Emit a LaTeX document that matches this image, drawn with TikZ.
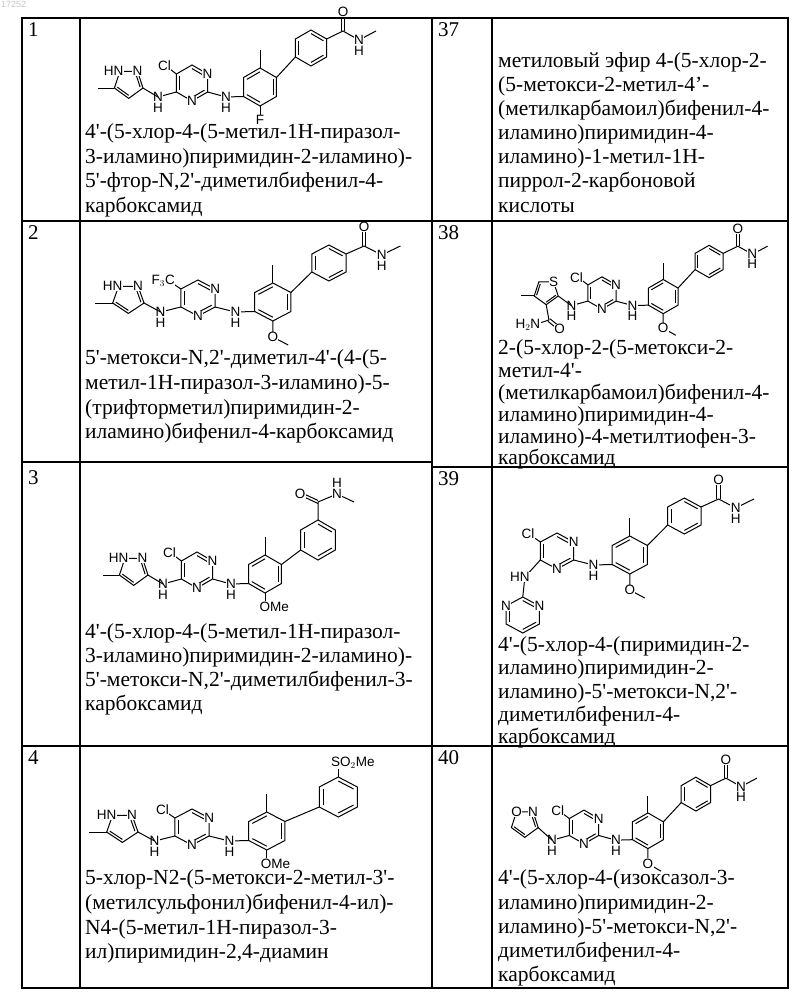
\documentclass[tikz,border=0pt]{standalone}
\usepackage{fontspec}
\setmainfont{Liberation Serif}[Ligatures=TeXOff]
\newfontfamily\atomf{Liberation Sans}
\usetikzlibrary{calc}
\newcommand\hexr[3]{\foreach \k in {0,...,5}{\coordinate (#1\k) at ($(#2)+({-90+60*\k}:#3)$);}\draw[bd] (#10)--(#11)--(#12)--(#13)--(#14)--(#15)--cycle;}
\newcommand\pentr[3]{\foreach \k in {0,...,4}{\coordinate (#1\k) at ($(#2)+({18-72*\k}:#3)$);}\draw[bd] (#10)--(#11)--(#12)--(#13)--(#14)--cycle;}
\newcommand\dbl[3]{\draw[bd] ($(#1)!0.2!(#3)$) -- ($(#2)!0.2!(#3)$);}
\newcommand\pyrcore{%
 \coordinate (O) at (0,0);
 \hexr{a}{0,0}{18}
 \dbl{a0}{a1}{O}\dbl{a2}{a3}{O}\dbl{a4}{a5}{O}
 \coordinate (nR) at (34,14);
 \draw[bd] (a2)--(nR);
 \coordinate (B) at (68,4);
 \hexr{b}{68,4}{19}
 \dbl{b1}{b2}{B}\dbl{b3}{b4}{B}\dbl{b5}{b0}{B}
 \draw[bd] (nR)--(b4);
 \draw[bd] (b0)--++(0,-18);
 \node[atm] at (a1) {N}; \node[atm] at (a3) {N};
 \node[atm] at (nR) {N}; \node[atm] at ($(nR)+(0,11)$) {H};}
\newcommand\cfive[1]{\draw[bd] (a5)--($(a5)+(-8,-6)$); \node[atm,anchor=east] at ($(a5)+(-5,-8)$) {#1};}
\newcommand\leftNH{\coordinate (nL) at (-34,14); \draw[bd] (a4)--(nL);
 \node[atm] at (nL) {N}; \node[atm] at ($(nL)+(0,11)$) {H};}
\newcommand\pararight{\coordinate (C) at (119,-35); \hexr{c}{119,-35}{18}
 \dbl{c0}{c1}{C}\dbl{c2}{c3}{C}\dbl{c4}{c5}{C}
 \draw[bd] (b1)--(c4);
 \coordinate (k) at (151,-52); \coordinate (am) at (167,-43);
 \draw[bd] (c1)--(k)--(am)--(184,-52);
 \draw[bd] (149.5,-52)--(149.5,-67); \draw[bd] (152.5,-52)--(152.5,-67);
 \node[atm] at (151,-71) {O}; \node[atm] at (am) {N}; \node[atm] at ($(am)+(0,11)$) {H};}
\newcommand\subF{\draw[bd] (b3)--++(0,9); \node[atm] at ($(b3)+(0,14)$) {F};}
\newcommand\subOMe{\coordinate (ox) at ($(b3)+(0,16)$); \draw[bd] (b3)--(ox)--++(14,8); \node[atm] at (ox) {O};}
\newcommand\subOMeT{\draw[bd] (b3)--++(0,10); \node[atm,anchor=north west] at ($(b3)+(-6,8)$) {OMe};}
\newcommand\pyrazole{\coordinate (D) at (-63.3,0.4); \pentr{d}{-63.3,0.4}{15}
 \dbl{d0}{d1}{D}\dbl{d3}{d4}{D}
 \draw[bd] (nL)--(d0); \draw[bd] (d3)--++(-16,0);
 \node[atm] at (d1) {N}; \node[atm,anchor=east] at ($(d2)+(4,0)$) {HN};}
\tikzset{bd/.style={line width=1pt},
 atm/.style={fill=white,inner sep=0.4pt,font=\atomf\fontsize{13.5}{13.5}\selectfont},
 grid/.style={line width=1.3pt},
 tx/.style={anchor=base west,inner sep=0pt,font=\fontsize{21.5}{22}\selectfont},
 num/.style={anchor=north west,inner sep=0pt,font=\fontsize{21}{22}\selectfont}}
\begin{document}
\begin{tikzpicture}[x=1pt,y=-1pt]
\fill[white] (0,0) rectangle (800,995);
\useasboundingbox (0,0) rectangle (800,995);
\node[anchor=north west,inner sep=1pt,text=gray!45,font=\atomf\fontsize{9}{9}\selectfont] (wm) at (0,0) {17252};
% grid
\draw[grid] (22,18) rectangle (788,988);
\draw[grid] (80,18)--(80,988); \draw[grid] (432,18)--(432,988); \draw[grid] (492,18)--(492,988);
\draw[grid] (22,221)--(788,221); \draw[grid] (22,462)--(432,462); \draw[grid] (432,467)--(788,467);
\draw[grid] (22,746)--(788,746);
% numbers
\node[num] (n1) at (28,22) {1}; \node[num] (n2) at (28,225) {2};
\node[num] (n3) at (28,470) {3}; \node[num] (n4) at (28,750) {4};
\node[num] (n37) at (438,22) {37}; \node[num] (n38) at (438,225) {38};
\node[num] (n39) at (438,471) {39}; \node[num] (n40) at (438,750) {40};
% cell 1
\begin{scope}[shift={(192,83)}]
\pyrcore \cfive{Cl} \leftNH \pyrazole \pararight \subF
\end{scope}
% cell 2
\begin{scope}[shift={(198,298)},xscale=1.1]
\pyrcore \cfive{F$_3$C} \leftNH \pyrazole \pararight \subOMe
\end{scope}
% cell 3
\begin{scope}[shift={(197,570)}]
\pyrcore \cfive{Cl} \leftNH \pyrazole \subOMeT
\coordinate (C) at (121,-30); \hexr{c}{121,-30}{20}
\dbl{c0}{c1}{C}\dbl{c2}{c3}{C}\dbl{c4}{c5}{C}
\draw[bd] (b1)--(c4);
\coordinate (k) at (121,-68); \coordinate (am) at (140,-76);
\draw[bd] (c0)--(k)--(am)--(157,-68);
\draw[bd] (121,-66.5)--(104,-74.5); \draw[bd] (121,-69.5)--(104,-77.5);
\node[atm] at (103,-76) {O}; \node[atm] at (am) {N}; \node[atm] at ($(am)+(0,-11)$) {H};
\end{scope}
% cell 4
\begin{scope}[shift={(192,827)},xscale=1.1]
\pyrcore \cfive{Cl} \leftNH \pyrazole \subOMeT
\coordinate (C) at (133,-30); \hexr{c}{133,-30}{20}
\dbl{c0}{c1}{C}\dbl{c2}{c3}{C}\dbl{c4}{c5}{C}
\draw[bd] (b1)--(c4); \draw[bd] (c0)--++(0,-10);
\node[atm,anchor=south west] at ($(c0)+(-7,-8)$) {SO$_2$Me};
\end{scope}
% cell 38
\begin{scope}[shift={(602,293)},scale=0.9]
\pyrcore \cfive{Cl} \leftNH \pararight \subOMe
\coordinate (E) at (-62,-1); \pentr{e}{-62,-1}{14}
\dbl{e0}{e4}{E}\dbl{e2}{e3}{E}
\draw[bd] (nL)--(e0); \draw[bd] (e3)--++(-15,0);
\coordinate (k2) at ($(e4)+(3,17)$);
\draw[bd] (e4)--(k2)--($(k2)+(-12,4)$);
\draw[bd] ($(k2)+(-1,1.5)$)--($(k2)+(9,9.5)$); \draw[bd] ($(k2)+(1,-1.5)$)--($(k2)+(11,6.5)$);
\node[atm] at (e1) {S}; \node[atm] at ($(k2)+(12,10)$) {O};
\node[atm,anchor=east] at ($(k2)+(-9,5)$) {H$_2$N};
\end{scope}
% cell 39
\begin{scope}[shift={(557,551)},xscale=1.07]
\pyrcore \cfive{Cl} \pararight \subOMe
\coordinate (nL) at (-30,26); \coordinate (F) at (-32,64);
\hexr{f}{-32,64}{18}
\dbl{f0}{f1}{F}\dbl{f2}{f3}{F}\dbl{f4}{f5}{F}
\draw[bd] (a4)--(nL)--(f0);
\node[atm] at (f1) {N}; \node[atm] at (f5) {N};
\node[atm,anchor=east] at ($(nL)+(5,0)$) {HN};
\end{scope}
% cell 40
\begin{scope}[shift={(584,827)},scale=0.94]
\pyrcore \cfive{Cl} \leftNH \pararight \subOMe
\coordinate (G) at (-63,-4); \pentr{g}{-63,-4}{15}
\dbl{g0}{g1}{G}\dbl{g3}{g4}{G}
\draw[bd] (nL)--(g0);
\node[atm] at (g1) {N}; \node[atm] at (g2) {O};
\end{scope}
% texts col 2
\node[tx] (t11) at (85,139) {4'-(5-хлор-4-(5-метил-1Н-пиразол-};
\node[tx] (t12) at (85,164) {3-иламино)пиримидин-2-иламино)-};
\node[tx] (t13) at (85,188) {5'-фтор-N,2'-диметилбифенил-4-};
\node[tx] (t14) at (85,212) {карбоксамид};
\node[tx] (t21) at (85,364) {5'-метокси-N,2'-диметил-4'-(4-(5-};
\node[tx] (t22) at (85,389) {метил-1Н-пиразол-3-иламино)-5-};
\node[tx] (t23) at (85,414) {(трифторметил)пиримидин-2-};
\node[tx] (t24) at (85,438) {иламино)бифенил-4-карбоксамид};
\node[tx] (t31) at (85,638) {4'-(5-хлор-4-(5-метил-1Н-пиразол-};
\node[tx] (t32) at (85,662) {3-иламино)пиримидин-2-иламино)-};
\node[tx] (t33) at (85,686) {5'-метокси-N,2'-диметилбифенил-3-};
\node[tx] (t34) at (85,710) {карбоксамид};
\node[tx] (t41) at (85,884) {5-хлор-N2-(5-метокси-2-метил-3'-};
\node[tx] (t42) at (85,909) {(метилсульфонил)бифенил-4-ил)-};
\node[tx] (t43) at (85,934) {N4-(5-метил-1Н-пиразол-3-};
\node[tx] (t44) at (85,958) {ил)пиримидин-2,4-диамин};
% texts col 4
\node[tx] (u11) at (498,68) {метиловый эфир 4-(5-хлор-2-};
\node[tx] (u12) at (498,92) {(5-метокси-2-метил-4’-};
\node[tx] (u13) at (498,116) {(метилкарбамоил)бифенил-4-};
\node[tx] (u14) at (498,140) {иламино)пиримидин-4-};
\node[tx] (u15) at (498,164) {иламино)-1-метил-1Н-};
\node[tx] (u16) at (498,188) {пиррол-2-карбоновой};
\node[tx] (u17) at (498,212) {кислоты};
\node[tx] (u21) at (498,354) {2-(5-хлор-2-(5-метокси-2-};
\node[tx] (u22) at (498,377) {метил-4'-};
\node[tx] (u23) at (498,399) {(метилкарбамоил)бифенил-4-};
\node[tx] (u24) at (498,421) {иламино)пиримидин-4-};
\node[tx] (u25) at (498,443) {иламино)-4-метилтиофен-3-};
\node[tx] (u26) at (498,464) {карбоксамид};
\node[tx] (u31) at (498,651) {4'-(5-хлор-4-(пиримидин-2-};
\node[tx] (u32) at (498,674) {иламино)пиримидин-2-};
\node[tx] (u33) at (498,698) {иламино)-5'-метокси-N,2'-};
\node[tx] (u34) at (498,721) {диметилбифенил-4-};
\node[tx] (u35) at (498,743) {карбоксамид};
\node[tx] (u41) at (498,884) {4'-(5-хлор-4-(изоксазол-3-};
\node[tx] (u42) at (498,909) {иламино)пиримидин-2-};
\node[tx] (u43) at (498,933) {иламино)-5'-метокси-N,2'-};
\node[tx] (u44) at (498,957) {диметилбифенил-4-};
\node[tx] (u45) at (498,981) {карбоксамид};
\end{tikzpicture}
\end{document}
